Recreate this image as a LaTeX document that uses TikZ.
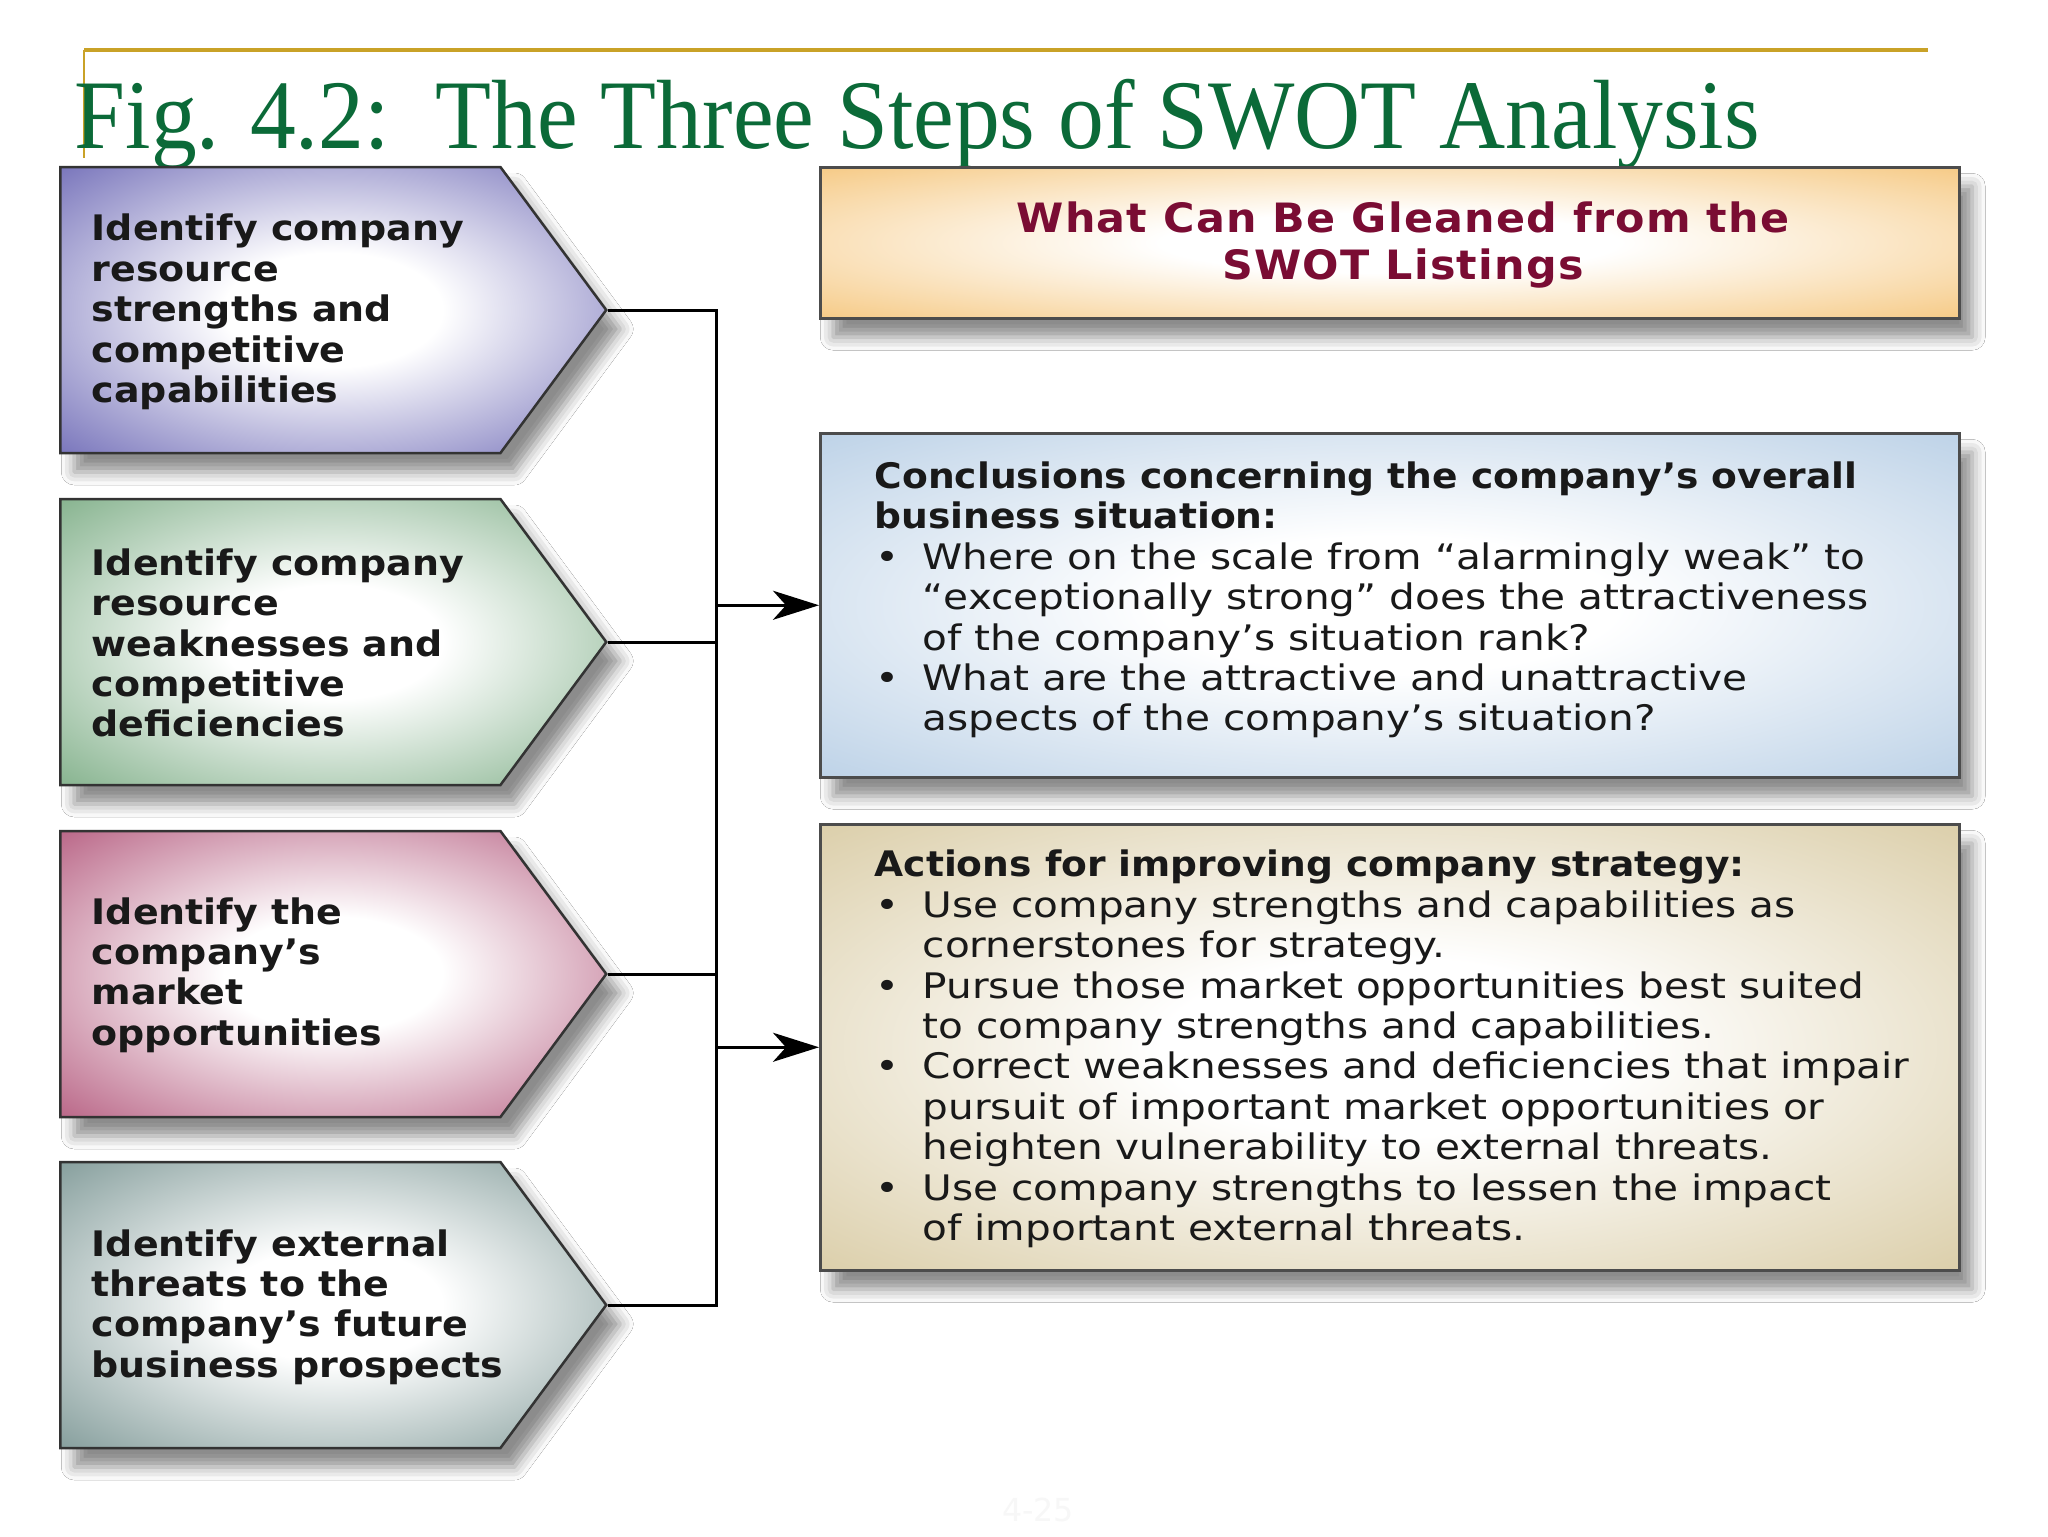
\documentclass[tikz,border=0pt]{standalone}
\usepackage{fontspec}
\setmainfont{Liberation Serif}
\newfontfamily\sansReg[FakeStretch=1.155]{DejaVu Sans}
\newfontfamily\sansBold[FakeStretch=1.07]{DejaVu Sans}
\newfontfamily\chevfont[FakeStretch=1.08]{DejaVu Sans}
\newfontfamily\headfont[FakeStretch=1.06,LetterSpace=3]{DejaVu Sans}
\newfontfamily\sansA{DejaVu Sans}
\usetikzlibrary{shapes.symbols,shadows.blur,arrows.meta}
\definecolor{gold}{HTML}{C9A227}
\definecolor{titlegreen}{HTML}{0B6A38}
\definecolor{cA}{HTML}{6C68B5}
\definecolor{cB}{HTML}{7BAC84}
\definecolor{cC}{HTML}{B3587C}
\definecolor{cD}{HTML}{7A9593}
\definecolor{bA}{HTML}{F5C57A}
\definecolor{bB}{HTML}{B7CEE5}
\definecolor{bC}{HTML}{D8CAA2}
\definecolor{maroon}{HTML}{7A0C33}
\definecolor{glowc}{HTML}{716DB9}
\pgfdeclareradialshading[glowc]{glow}{\pgfpoint{0bp}{0bp}}{color(0bp)=(white); color(10bp)=(white); color(38bp)=(glowc); color(50bp)=(glowc)}
\tikzset{
  chev/.style={signal, signal to=east, signal pointer angle=107, anchor=west,
    minimum width=54.6mm, minimum height=28.6mm, inner sep=0, draw=black!80, line width=0.25mm,
    shading=glow, blur shadow={shadow xshift=1.4mm, shadow yshift=-1.9mm, shadow blur radius=1.3mm, shadow opacity=45}},
  rbox/.style={rectangle, anchor=north west, minimum width=113.9mm, inner sep=0, draw=black!70, line width=0.25mm,
    shading=glow, blur shadow={shadow xshift=1.3mm, shadow yshift=-1.9mm, shadow blur radius=1.3mm, shadow opacity=45}},
  chevtext/.style={anchor=west, align=left, inner sep=0, text=black!90,
    font=\chevfont\bfseries\fontsize{10}{11.5}\selectfont},
  boxtext/.style={anchor=west, align=left, inner sep=0, text=black!90,
    font=\sansReg\fontsize{10}{11.5}\selectfont},
  conn/.style={line width=0.3mm, black},
  arr/.style={line width=0.3mm, black, -{Stealth[length=4.6mm,width=2.9mm,inset=1.3mm]}},
}
\newcommand{\bul}{\makebox[4.8mm][l]{\hspace{0.1mm}\textbullet}}
\newcommand{\ind}{\hspace*{4.8mm}}
\newcommand{\hd}[1]{{\sansBold\bfseries #1}}
\begin{document}
\begin{tikzpicture}[x=0.1mm,y=-0.1mm]
\useasboundingbox (0,0) rectangle (2048,1536);
\fill[white] (0,0) rectangle (2048,1536);
% gold rules
\draw[gold, line width=0.4mm] (84,50) -- (1928,50);
\draw[gold, line width=0.28mm] (84,50) -- (84,158);
\node[anchor=base west, inner sep=0, text=titlegreen, font=\fontsize{28}{30}\selectfont] (title) at (74,148)
  {\scalebox{0.93}[1]{Fig. 4.2:\ \ The Three Steps of SWOT Analysis}};
% chevrons
\colorlet{glowc}{cA}
\node[chev] (c1) at (59,310) {};
\colorlet{glowc}{cB}
\node[chev] (c2) at (59,642) {};
\colorlet{glowc}{cC}
\node[chev] (c3) at (59,974) {};
\colorlet{glowc}{cD}
\node[chev] (c4) at (59,1305) {};
\node[chevtext] (t1) at (91,312) {Identify company\\resource\\strengths and\\competitive\\capabilities};
\node[chevtext] (t2) at (91,643) {Identify company\\resource\\weaknesses and\\competitive\\deficiencies};
\node[chevtext] (t3) at (91,975) {Identify the\\company’s\\market\\opportunities};
\node[chevtext] (t4) at (91,1307) {Identify external\\threats to the\\company’s future\\business prospects};
% right boxes
\colorlet{glowc}{bA}
\node[rbox, minimum height=15.1mm] (b1) at (819,166) {};
\colorlet{glowc}{bB}
\node[rbox, minimum height=34.4mm] (b2) at (819,432) {};
\colorlet{glowc}{bC}
\node[rbox, minimum height=44.6mm] (b3) at (819,823) {};
\node[align=center, inner sep=0, text=maroon, font=\headfont\bfseries\fontsize{11.5}{13.2}\selectfont] (h1) at (1403,245)
  {What Can Be Gleaned from the\\SWOT Listings};
\node[boxtext] (t5) at (874,600) {\hd{Conclusions concerning the company’s overall}\\
\hd{business situation:}\\
\bul Where on the scale from “alarmingly weak” to\\
\ind “exceptionally strong” does the attractiveness\\
\ind of the company’s situation rank?\\
\bul What are the attractive and unattractive\\
\ind aspects of the company’s situation?};
\node[boxtext] (t6) at (874,1049) {\hd{Actions for improving company strategy:}\\
\bul Use company strengths and capabilities as\\
\ind cornerstones for strategy.\\
\bul Pursue those market opportunities best suited\\
\ind to company strengths and capabilities.\\
\bul Correct weaknesses and deficiencies that impair\\
\ind pursuit of important market opportunities or\\
\ind heighten vulnerability to external threats.\\
\bul Use company strengths to lessen the impact\\
\ind of important external threats.};
% connectors
\coordinate (sp) at (716,310);
\draw[conn, line join=miter] (c1.east) -- (c1.east -| sp) -- (c4.east -| sp) -- (c4.east);
\draw[conn] (c2.east) -- (c2.east -| sp);
\draw[conn] (c3.east) -- (c3.east -| sp);
\draw[arr] (sp |- b2.west) -- (b2.west);
\draw[arr] (sp |- b3.west) -- (b3.west);
\node[text=black!3, inner sep=0, font=\sansA\fontsize{9}{10}\selectfont] (pg) at (1038,1510) {4-25};
\end{tikzpicture}
\end{document}
